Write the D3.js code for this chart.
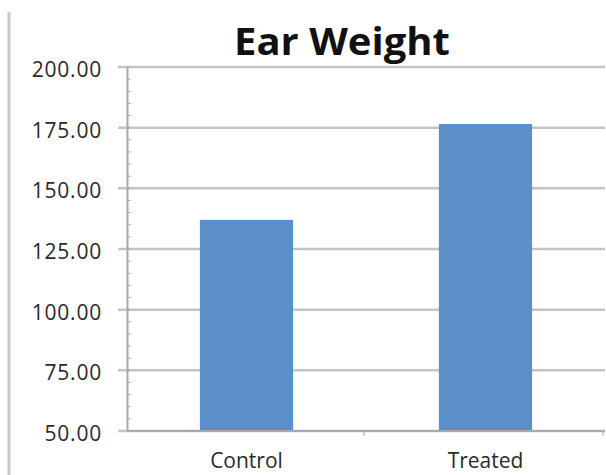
<!DOCTYPE html>
<html>
<head>
<meta charset="utf-8">
<script src="https://cdn.jsdelivr.net/npm/d3@7"></script>
<style>
  body { margin: 0; background: #fff; }
  text { font-family: "Open Sans", "Liberation Sans", sans-serif; }
</style>
</head>
<body>
<div id="chart"></div>
<script>
// chart data
const categories = ["Control", "Treated"];
const values = [137.0, 176.5];
const yTicks = [50, 75, 100, 125, 150, 175, 200];
const titleText = "Ear Weight";

const W = 606, H = 475;
const margin = { top: 67, right: 1, bottom: 44, left: 127 };
const width = W - margin.left - margin.right;
const height = H - margin.top - margin.bottom;

const svg = d3.select("#chart").append("svg")
    .attr("width", W)
    .attr("height", H);

// left frame line
svg.append("line")
    .attr("x1", 9).attr("x2", 9)
    .attr("y1", 12).attr("y2", H)
    .attr("stroke", "#c8c8c8")
    .attr("stroke-width", 3);

const g = svg.append("g")
    .attr("transform", `translate(${margin.left},${margin.top})`);

const x = d3.scaleBand()
    .domain(categories)
    .range([0, width])
    .paddingInner(0.61)
    .paddingOuter(0.305);

const y = d3.scaleLinear()
    .domain([50, 200])
    .range([height, 0]);

// gridlines
g.append("g")
    .selectAll("line")
    .data(yTicks)
    .join("line")
    .attr("x1", -9)
    .attr("x2", width)
    .attr("y1", d => y(d))
    .attr("y2", d => y(d))
    .attr("stroke", "#c4c4c4")
    .attr("stroke-width", 2.5);

// minor ticks
g.append("g")
    .selectAll("line")
    .data(d3.range(50, 201, 5))
    .join("line")
    .attr("x1", 0)
    .attr("x2", 4)
    .attr("y1", d => y(d))
    .attr("y2", d => y(d))
    .attr("stroke", "#b0b0b0")
    .attr("stroke-width", 1);

// y axis
const yAxis = g.append("g")
    .call(d3.axisLeft(y).tickValues(yTicks).tickSize(0).tickPadding(25)
        .tickFormat(d => d.toFixed(2)));
yAxis.select(".domain").attr("stroke", "#a8a8a8").attr("stroke-width", 2);
yAxis.selectAll("text")
    .attr("font-size", "21px")
    .attr("letter-spacing", "0.8px")
    .attr("dy", "0.45em")
    .attr("fill", "#2a2a2a");

// bars
g.selectAll("rect.bar")
    .data(values)
    .join("rect")
    .attr("class", "bar")
    .attr("x", (d, i) => x(categories[i]))
    .attr("width", x.bandwidth())
    .attr("y", d => y(d))
    .attr("height", d => height - y(d))
    .attr("fill", "#5a8fc9");

// x axis
const step = width / categories.length;
const xAxis = g.append("g")
    .attr("transform", `translate(0,${height})`);
xAxis.append("line")
    .attr("x1", 0).attr("x2", width)
    .attr("stroke", "#a8a8a8").attr("stroke-width", 2);
xAxis.selectAll("line.tick")
    .data(d3.range(1, categories.length + 1))
    .join("line")
    .attr("class", "tick")
    .attr("x1", d => d * step - 2).attr("x2", d => d * step - 2)
    .attr("y1", 0).attr("y2", 5)
    .attr("stroke", "#a8a8a8");
xAxis.selectAll("text")
    .data(categories)
    .join("text")
    .attr("x", d => x(d) + x.bandwidth() / 2)
    .attr("y", 37)
    .attr("text-anchor", "middle")
    .attr("font-size", "21px")
    .attr("fill", "#2a2a2a")
    .text(d => d);

// title
svg.append("text")
    .attr("x", 342)
    .attr("y", 55)
    .attr("text-anchor", "middle")
    .attr("font-size", "38px")
    .attr("font-weight", 700)
    .attr("textLength", 216)
    .attr("lengthAdjust", "spacingAndGlyphs")
    .attr("fill", "#111")
    .text(titleText);
</script>
</body>
</html>
